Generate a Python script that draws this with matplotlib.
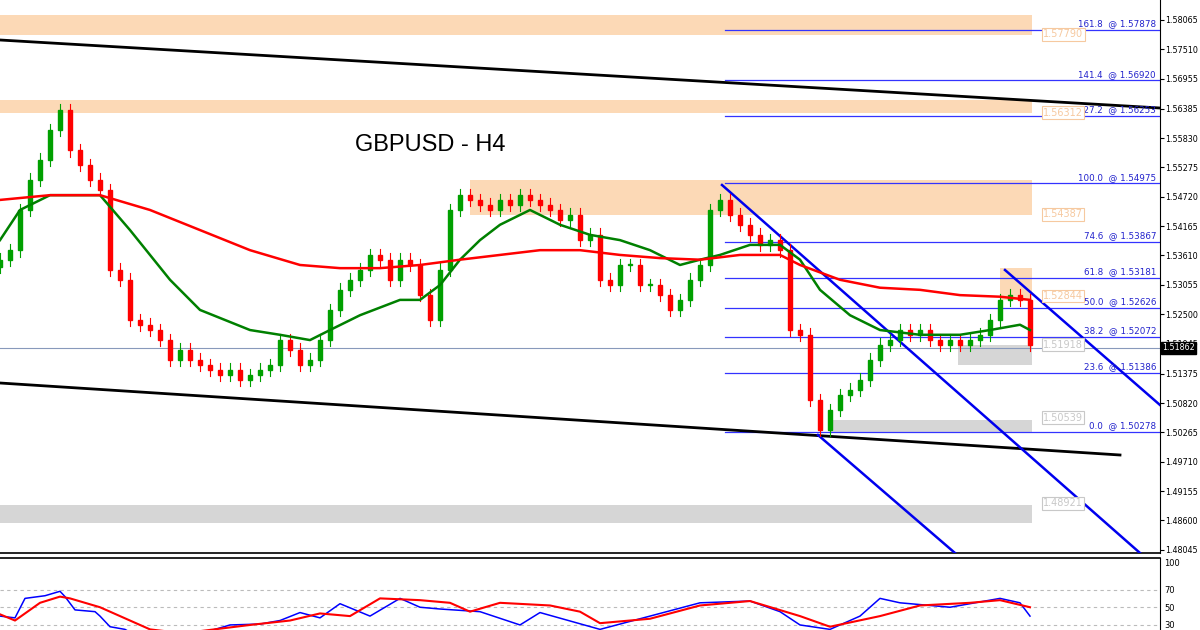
import matplotlib
matplotlib.use("Agg")
import matplotlib.pyplot as plt
import numpy as np

closes = [1.5353,1.5371,1.5447,1.5504,1.5542,1.5598,1.5636,1.5560,1.5532,1.5504,1.5485,1.5334,1.5315,1.5239,1.5230,1.5220,1.5201,1.5164,1.5183,1.5164,1.5154,1.5145,1.5135,1.5145,1.5126,1.5135,1.5145,1.5154,1.5201,1.5183,1.5154,1.5164,1.5201,1.5258,1.5296,1.5315,1.5334,1.5362,1.5353,1.5315,1.5353,1.5343,1.5286,1.5239,1.5334,1.5447,1.5475,1.5466,1.5457,1.5447,1.5466,1.5457,1.5475,1.5466,1.5457,1.5447,1.5428,1.5438,1.5390,1.5400,1.5315,1.5305,1.5343,1.5343,1.5305,1.5305,1.5286,1.5258,1.5277,1.5315,1.5343,1.5447,1.5466,1.5438,1.5419,1.5400,1.5381,1.5390,1.5371,1.5220,1.5211,1.5088,1.5031,1.5069,1.5097,1.5107,1.5126,1.5164,1.5192,1.5201,1.5220,1.5211,1.5220,1.5201,1.5192,1.5201,1.5192,1.5201,1.5211,1.5239,1.5277,1.5286,1.5277,1.5192]
first_open = 1.5340

ma_fast_x = [0,2,5,10,13,17,20,25,28,31,33,36,40,42,44,46,48,50,53,56,59,62,65,68,70,72,75,78,80,82,85,88,92,96,99,102,103]
ma_fast = [1.5390,1.5447,1.5475,1.5475,1.5409,1.5315,1.5258,1.5220,1.5211,1.5201,1.5220,1.5248,1.5277,1.5277,1.5305,1.5353,1.5390,1.5419,1.5447,1.5419,1.5400,1.5390,1.5371,1.5343,1.5353,1.5362,1.5381,1.5381,1.5353,1.5296,1.5248,1.5220,1.5211,1.5211,1.5220,1.5230,1.5220]
ma_slow_x = [0,5,10,15,20,25,30,34,38,42,46,50,54,58,62,66,70,74,78,80,84,88,92,96,100,103]
ma_slow = [1.5466,1.5475,1.5475,1.5447,1.5409,1.5371,1.5343,1.5337,1.5337,1.5343,1.5353,1.5362,1.5371,1.5371,1.5362,1.5356,1.5353,1.5362,1.5362,1.5343,1.5315,1.5300,1.5296,1.5286,1.5283,1.5277]

osc_blue_x = [0,1.5,2.5,4.5,6,6.5,7.5,9.5,10,11,12.5,14,17,19,20,23,26,28,30,32,34,37,40,42,44,48,52,54,60,65,70,75,78,80,83,86,88,90,95,100,102,103]
osc_blue = [40,38,60,63,68,62,47,45,40,28,25,15,10,15,20,30,31,35,44,38,54,40,60,50,48,45,30,44,25,40,55,57,45,30,25,40,60,55,50,60,55,40]
osc_red_x = [0,1.5,4,6,7,10,13,15,18,20,25,29,32,35,38,42,45,47,50,55,58,60,65,70,75,80,83,88,92,97,100,103]
osc_red = [42,35,55,62,60,50,35,25,21,23,30,35,43,40,60,58,55,45,55,52,45,32,37,52,57,40,28,40,52,55,58,50]

fib_ratios = ["161.8","141.4","127.2","100.0","74.6","61.8","50.0","38.2","23.6","0.0"]
fib_prices = [1.57878,1.56920,1.56253,1.54975,1.53867,1.53181,1.52626,1.52072,1.51386,1.50278]
zone_labels = ["1.57790","1.56312","1.54387","1.52844","1.51918","1.50539","1.48921"]
zone_prices = [1.57790,1.56312,1.54387,1.52844,1.51918,1.50539,1.48921]
ytick_vals = [1.58065,1.57510,1.56955,1.56385,1.55830,1.55275,1.54720,1.54165,1.53610,1.53055,1.52500,1.51945,1.51375,1.50820,1.50265,1.49710,1.49155,1.48600,1.48045]
current_price = 1.51862

PTOP, PPX = 1.5844, 1/5289.0
def py(y): return PTOP - y*PPX
def ix(x): return x/10.0

fig = plt.figure(figsize=(12,6.3), dpi=100)
ax = fig.add_axes([0, 77/630, 1160/1200, 553/630])
ax.set_xlim(ix(0), ix(1160)); ax.set_ylim(py(553), py(0))
XR = ix(1032)

orange = '#fcd9b6'; grey = '#d6d6d6'
for (x0,y0,y1,c) in [(0,15,35,orange),(0,100,113,orange),(470,180,215,orange),(1000,268,300,orange),
                     (0,505,523,grey),(830,420,432,grey),(958,345,365,grey)]:
    ax.fill_between([ix(x0),XR],[py(y1)]*2,[py(y0)]*2,color=c,lw=0,zorder=1)

ax.plot([ix(0),ix(1160)],[py(40),py(108)],color='black',lw=2,zorder=3)
ax.plot([ix(0),ix(1120)],[py(383),py(455)],color='black',lw=2,zorder=3)
for (a,b) in [((722,185),(1140,553)),((818,435),(955,553)),((1005,270),(1160,405))]:
    ax.plot([ix(a[0]),ix(b[0])],[py(a[1]),py(b[1])],color='#0000ee',lw=1.8,zorder=3)

for r,p in zip(fib_ratios,fib_prices):
    ax.plot([ix(725),ix(1160)],[p,p],color='#3333ff',lw=0.9,zorder=2)
    ax.text(ix(1156),p+0.0003,f"{r}  @ {p:.5f}",color='#2222cc',fontsize=6.3,ha='right',va='bottom',zorder=5)

for lab,p in zip(zone_labels,zone_prices):
    c = '#f6c9a0' if p > 1.525 else '#c8c8c8'
    ax.text(ix(1043),p,lab,fontsize=7,color=c,va='center',ha='left',
            bbox=dict(boxstyle='square,pad=0.15',fc='white',ec=c,lw=0.8),zorder=6)

ax.axhline(current_price,color='#8899bb',lw=0.8,zorder=2)

opens = [first_open]+closes[:-1]
pad = 0.0012
for i,(o,c) in enumerate(zip(opens,closes)):
    col = '#00a000' if c>=o else '#ff0000'
    ax.plot([i,i],[min(o,c)-pad,max(o,c)+pad],color=col,lw=0.8,zorder=4)
    ax.add_patch(plt.Rectangle((i-0.22,min(o,c)),0.44,max(abs(c-o),0.0002),color=col,zorder=4))

ax.plot(ma_fast_x,ma_fast,color='#008000',lw=1.8,zorder=5)
ax.plot(ma_slow_x,ma_slow,color='#ff0000',lw=1.8,zorder=5)

ax.text(ix(430),py(145),"GBPUSD - H4",fontsize=17,ha='center',va='center',family='Liberation Sans')

ax.yaxis.tick_right()
ax.set_yticks(ytick_vals); ax.set_yticklabels([f"{v:.5f}" for v in ytick_vals],fontsize=5.8)
ax.tick_params(axis='y',length=3,pad=1)
ax.set_xticks([])
for s in ['top','left']: ax.spines[s].set_visible(False)
ax.spines['bottom'].set_linewidth(1.2)
ax.text(1.002,current_price,f"{current_price:.5f}",transform=ax.get_yaxis_transform(),fontsize=5.8,
        color='white',va='center',ha='left',bbox=dict(boxstyle='square,pad=0.15',fc='black',ec='black'),zorder=7)

ox = fig.add_axes([0,0,1160/1200,72/630])
ox.set_xlim(ix(0),ix(1160)); ox.set_ylim(24.3,105.6)
for lv in (70,50,30): ox.axhline(lv,color='#bbbbbb',lw=0.8,ls=(0,(3,3)))
ox.plot(osc_blue_x,osc_blue,color='#0000ff',lw=1.1)
ox.plot(osc_red_x,osc_red,color='#ff0000',lw=1.5)
ox.yaxis.tick_right(); ox.set_yticks([100,70,50,30]); ox.set_yticklabels(['100','70','50','30'],fontsize=6)
ox.tick_params(axis='y',length=0,pad=3); ox.set_xticks([])
for s in ['left','bottom']: ox.spines[s].set_visible(False)
ox.spines['top'].set_linewidth(1.2)

fig.savefig("out.png",dpi=100)
